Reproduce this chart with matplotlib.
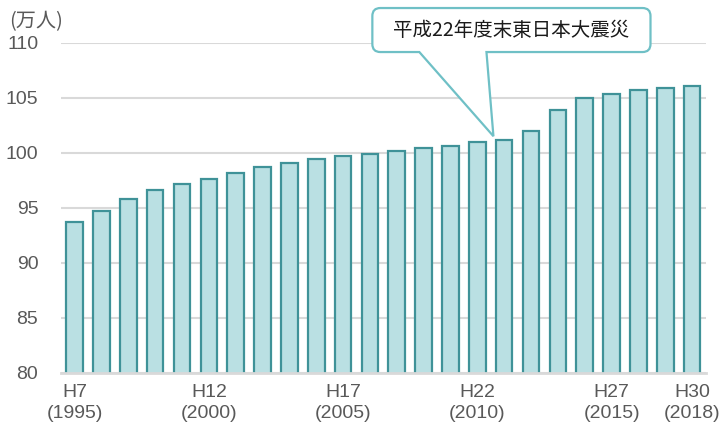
import matplotlib
matplotlib.use("Agg")
import matplotlib.pyplot as plt
from matplotlib.path import Path
from matplotlib.patches import PathPatch
import numpy as np

years_h = list(range(7, 31))
values = [93.7, 94.7, 95.8, 96.6, 97.2, 97.6, 98.2, 98.7, 99.1, 99.4, 99.7, 99.85,
          100.2, 100.4, 100.6, 101.0, 101.2, 102.0, 103.9, 105.0, 105.3, 105.7, 105.9, 106.1]
tick_idx = [0, 5, 10, 15, 20, 23]
tick_labels = ["H7\n(1995)", "H12\n(2000)", "H17\n(2005)", "H22\n(2010)", "H27\n(2015)", "H30\n(2018)"]
y_ticks = [80, 85, 90, 95, 100, 105, 110]
unit_label = "(万人)"
callout_text = "平成22年度末東日本大震災"

plt.rcParams['font.family'] = ['Liberation Sans', 'Noto Sans CJK JP', 'DejaVu Sans']

fig = plt.figure(figsize=(7.24, 4.29), dpi=100)
ax = fig.add_axes([0.0845, 0.131, 0.89, 0.7695])

x = np.arange(len(values))
ax.bar(x, values, width=0.62, color="#bae0e3", edgecolor="#3f9298", linewidth=1.6, zorder=3)

ax.set_ylim(80, 110)
ax.set_xlim(-0.5, len(values) - 0.5)
ax.set_yticks(y_ticks)
ax.set_yticklabels([str(v) for v in y_ticks])
ax.set_xticks(tick_idx)
ax.set_xticklabels(tick_labels, linespacing=1.35)
ax.tick_params(axis='both', length=0, labelsize=14, labelcolor="#595959")
ax.tick_params(axis='y', pad=16.5)
ax.tick_params(axis='x', pad=8)

ax.yaxis.grid(True, color="#d9d9d9", linewidth=1.5, zorder=0)
for s in ['top', 'right', 'left']:
    ax.spines[s].set_visible(False)
ax.spines['bottom'].set_color("#d9d9d9")
ax.spines['bottom'].set_linewidth(2)
ax.spines['bottom'].set_zorder(4)

fig.text(0.013, 0.937, unit_label, fontsize=14.5, color="#595959",
         family=['Noto Sans CJK JP', 'DejaVu Sans'], ha='left', va='baseline')

# Callout (box + tail) built in display space from data anchors
fig.canvas.draw()
T = ax.transData
x0, y0 = T.transform((11.09, 109.15))
x1, y1 = T.transform((21.45, 113.15))
tb0, _ = T.transform((12.84, 0))
tb1, _ = T.transform((15.34, 0))
tipx, tipy = T.transform((15.6, 101.5))
r = 8
verts = [
    (x0 + r, y1), (x1 - r, y1), (x1, y1), (x1, y1 - r),
    (x1, y0 + r), (x1, y0), (x1 - r, y0),
    (tb1, y0), (tipx, tipy), (tb0, y0),
    (x0 + r, y0), (x0, y0), (x0, y0 + r),
    (x0, y1 - r), (x0, y1), (x0 + r, y1), (x0 + r, y1)
]
codes = [Path.MOVETO, Path.LINETO, Path.CURVE3, Path.CURVE3,
         Path.LINETO, Path.CURVE3, Path.CURVE3,
         Path.LINETO, Path.LINETO, Path.LINETO,
         Path.LINETO, Path.CURVE3, Path.CURVE3,
         Path.LINETO, Path.CURVE3, Path.CURVE3, Path.CLOSEPOLY]
patch = PathPatch(Path(verts, codes), transform=None, facecolor="white",
                  edgecolor="#6fc0c6", linewidth=1.6, zorder=10, clip_on=False)
fig.add_artist(patch)
cx = (x0 + x1) / 2
cy = (y0 + y1) / 2
fig.text(cx / fig.bbox.width, cy / fig.bbox.height, callout_text, fontsize=14,
         color="#1a1a1a", ha='center', va='center', zorder=11,
         family=['Noto Sans CJK JP', 'DejaVu Sans'])

fig.savefig("out.png", dpi=100, facecolor="white")
